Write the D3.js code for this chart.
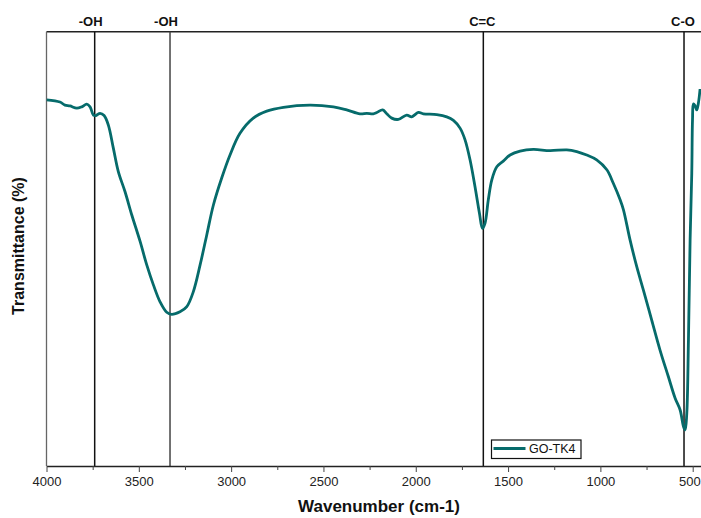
<!DOCTYPE html>
<html>
<head>
<meta charset="utf-8">
<script src="https://cdn.jsdelivr.net/npm/d3@7"></script>
<style>
  html, body { margin: 0; padding: 0; background: #fff; }
  svg { display: block; }
</style>
</head>
<body>
<svg id="chart" width="701" height="518"></svg>
<script>
// ---- data ----
const wavenumber = [4000,3927,3900,3873,3836,3809,3782,3764,3746,3732,3710,3688,3665,3638,3611,3575,3538,3493,3457,3421,3385,3349,3322,3277,3240,3205,3168,3132,3096,3051,3006,2952,2880,2807,2717,2573,2446,2374,2302,2265,2230,2211,2179,2157,2130,2094,2049,2022,1986,1959,1886,1832,1796,1760,1733,1706,1679,1655,1639,1625,1607,1588,1561,1526,1489,1435,1363,1273,1182,1128,1074,1020,965,930,893,875,839,803,767,722,677,632,595,568,550,541,532,523,514,505,501,496,487,478,469,460];
const transmittance = [84.3,83.8,83.1,82.9,82.4,82.7,83.3,82.7,80.8,80.7,81.2,80.7,78.5,73.2,67.8,63.2,57.8,51.7,46.3,41.7,37.8,35.4,34.9,35.5,36.7,40.1,46.3,53.2,60.1,66.3,71.6,76.6,80.1,81.7,82.6,83.1,82.7,82.0,81.1,81.2,81.1,81.4,82.0,81.1,80.1,79.8,80.8,80.4,81.4,81.1,80.9,80.4,79.6,77.8,75.1,70.5,64.3,58.2,54.7,55.9,61.3,65.9,68.9,70.2,71.6,72.5,72.9,72.6,72.8,72.4,71.6,70.5,68.2,65.1,61.3,59.0,52.0,45.9,40.5,33.6,26.7,20.6,15.6,12.9,9.1,8.3,12.1,29.0,52.0,67.4,79.7,83.4,82.9,82.0,83.6,86.8];
const seriesName = "GO-TK4";
const markerLabels = ["-OH", "-OH", "C=C", "C-O"];
const markerPositions = [3739, 3331, 1634, 547];
const xTicks = [4000, 3500, 3000, 2500, 2000, 1500, 1000, 500];
const xMinorTicks = [3750, 3250, 2750, 2250, 1750, 1250, 750];
const xDomain = [4000, 455];
const yDomain = [0, 100];

(function () {
// ---- layout ----
const svg = d3.select("#chart");
const pL = 46.5, pR = 701, pT = 31.7, pB = 466;
const x = d3.scaleLinear().domain(xDomain).range([pL, pR]);
const y = d3.scaleLinear().domain(yDomain).range([pB, pT]);
const teal = "#066b6b";
const font = "Liberation Sans, Arial, sans-serif";

svg.append("defs").append("clipPath").attr("id", "clip")
  .append("rect").attr("x", pL).attr("y", pT).attr("width", pR - pL).attr("height", pB - pT);

// frame: top and left borders
svg.append("line").attr("x1", pL).attr("x2", pR).attr("y1", pT).attr("y2", pT)
  .attr("stroke", "#222").attr("stroke-width", 1.5);
svg.append("line").attr("x1", pL).attr("x2", pL).attr("y1", pT).attr("y2", pB)
  .attr("stroke", "#666").attr("stroke-width", 1.3);

// marker lines
const mk = svg.append("g");
markerPositions.forEach((w, i) => {
  mk.append("line").attr("x1", x(w)).attr("x2", x(w)).attr("y1", pT).attr("y2", pB)
    .attr("stroke", i === 1 ? "#444" : "#111").attr("stroke-width", 1.5);
  mk.append("text").attr("x", x(w)).attr("dx", i < 2 ? -4 : -1).attr("y", 25.5)
    .attr("text-anchor", "middle")
    .attr("font-family", font)
    .attr("font-weight", "bold").attr("font-size", 13).attr("fill", "#111")
    .text(markerLabels[i]);
});

// x axis
const xAxis = d3.axisBottom(x).tickValues(xTicks).tickSize(6).tickSizeOuter(0).tickFormat(d3.format("d"));
const gx = svg.append("g").attr("transform", `translate(0,${pB})`).call(xAxis);
gx.select(".domain").attr("stroke", "#222").attr("stroke-width", 1.5);
gx.selectAll(".tick line").attr("stroke", "#444");
gx.selectAll(".tick text").attr("font-family", font)
  .attr("font-size", 13).attr("fill", "#222").attr("dy", "0.72em").attr("y", 11);
// keep the last label inside the picture edge
gx.selectAll(".tick text").filter(d => d === 500).attr("text-anchor", "end").attr("x", 7.5);
const xMinor = d3.axisBottom(x).tickValues(xMinorTicks).tickSize(4).tickFormat("");
const gxm = svg.append("g").attr("transform", `translate(0,${pB})`).call(xMinor);
gxm.select(".domain").remove();
gxm.selectAll(".tick line").attr("stroke", "#444");

// curve
const line = d3.line().x((d, i) => x(wavenumber[i])).y((d) => y(d)).curve(d3.curveCatmullRom.alpha(0.5));
svg.append("path").datum(transmittance).attr("clip-path", "url(#clip)")
  .attr("d", line).attr("fill", "none").attr("stroke", teal)
  .attr("stroke-width", 2.8).attr("stroke-linejoin", "round");

// axis titles
svg.append("text").attr("x", 379).attr("y", 512).attr("text-anchor", "middle")
  .attr("font-family", font).attr("font-weight", "bold")
  .attr("font-size", 17).attr("fill", "#111").text("Wavenumber (cm-1)");
svg.append("text").attr("transform", "translate(24,246) rotate(-90)").attr("text-anchor", "middle")
  .attr("font-family", font).attr("font-weight", "bold")
  .attr("font-size", 16).attr("fill", "#111").text("Transmittance (%)");

// legend
const lg = svg.append("g").attr("transform", "translate(491.5,440)");
lg.append("rect").attr("width", 89.5).attr("height", 18.5).attr("fill", "#fff")
  .attr("stroke", "#111").attr("stroke-width", 1.2);
lg.append("line").attr("x1", 2).attr("x2", 34).attr("y1", 8.5).attr("y2", 8.5)
  .attr("stroke", teal).attr("stroke-width", 3);
lg.append("text").attr("x", 37.5).attr("y", 13.3)
  .attr("font-family", font).attr("font-size", 12.5)
  .attr("fill", "#111").text(seriesName);
})();
</script>
</body>
</html>
